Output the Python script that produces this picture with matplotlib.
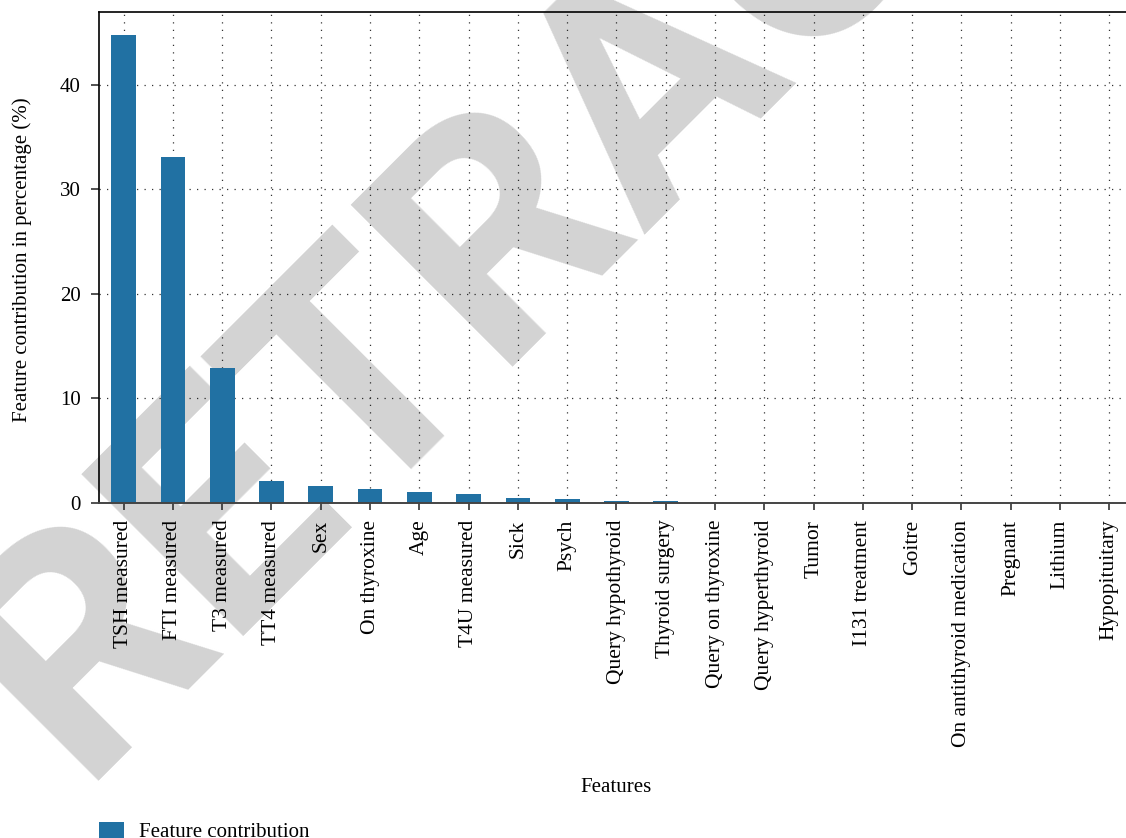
import matplotlib
matplotlib.use("Agg")
import matplotlib.pyplot as plt
import numpy as np

features = [
    "TSH measured", "FTI measured", "T3 measured", "TT4 measured", "Sex",
    "On thyroxine", "Age", "T4U measured", "Sick", "Psych",
    "Query hypothyroid", "Thyroid surgery", "Query on thyroxine",
    "Query hyperthyroid", "Tumor", "I131 treatment", "Goitre",
    "On antithyroid medication", "Pregnant", "Lithium", "Hypopituitary",
]
contribution = [
    44.7, 33.1, 12.9, 2.1, 1.65, 1.35, 1.05, 0.85, 0.5, 0.4,
    0.2, 0.2, 0.0, 0.0, 0.0, 0.0, 0.0, 0.0, 0.0, 0.0, 0.0,
]
y_ticks = [0, 10, 20, 30, 40]

BAR_COLOR = "#2171a3"
SERIF = ["Liberation Serif", "DejaVu Serif"]

plt.rcParams["font.family"] = SERIF
plt.rcParams["font.size"] = 15

fig = plt.figure(figsize=(11.26, 8.38), dpi=100)

# retraction watermark, drawn behind the axes
fig.text(719 / 1126, 1 - 141 / 838, "RETRACTED", fontsize=232,
         fontweight="bold", family=["Roboto", "Liberation Sans"],
         color="#d3d3d3", rotation=45, rotation_mode="anchor",
         ha="center", va="baseline", zorder=-1)

ax = fig.add_axes([99 / 1126, 1 - 503 / 838, 1035 / 1126, 491 / 838])
ax.patch.set_alpha(0)

x = np.arange(len(features))
bars = ax.bar(x, contribution, width=0.5, color=BAR_COLOR,
              label="Feature contribution", zorder=2)

ax.set_xlim(-0.5, len(features) - 0.5)
ax.set_ylim(0, max(contribution) * 1.05)
ax.set_xticks(x)
ax.set_xticklabels(features, rotation=90, fontsize=15.5)
ax.set_yticks(y_ticks)

ax.grid(True, color="black", linestyle=(0, (1, 5)), linewidth=0.9, alpha=0.8)
ax.set_axisbelow(True)

ax.spines["left"].set_color("black")
ax.spines["left"].set_linewidth(1.2)
ax.spines["top"].set_color("black")
ax.spines["top"].set_linewidth(1.2)
ax.spines["bottom"].set_color("#444444")
ax.spines["bottom"].set_linewidth(1.4)
ax.spines["right"].set_visible(False)
ax.tick_params(axis="x", length=5, width=1.2, pad=7, color="#333333")
ax.tick_params(axis="y", length=6, width=1.2, pad=7, color="#333333")

ax.set_xlabel("Features")
ax.set_ylabel("Feature contribution in percentage (%)")
ax.xaxis.set_label_coords(0.5, -0.56)
ax.yaxis.set_label_coords(-0.065, 0.495)

fig.legend(handles=[bars], labels=["Feature contribution"], loc="upper left",
           bbox_to_anchor=(99 / 1126, 1 - 822 / 838), frameon=False,
           borderpad=0, borderaxespad=0, handlelength=1.2, handleheight=0.8,
           handletextpad=0.7)

fig.savefig("out.png", dpi=100)
